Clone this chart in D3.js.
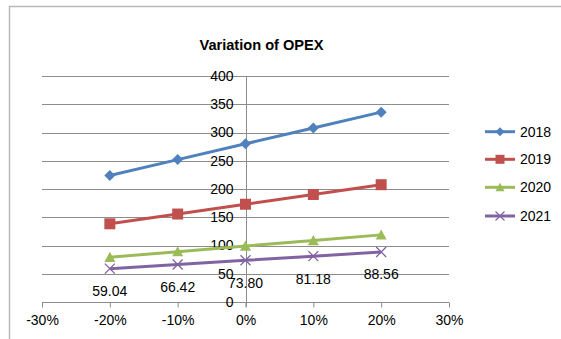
<!DOCTYPE html>
<html>
<head>
<meta charset="utf-8">
<script src="https://cdn.jsdelivr.net/npm/d3@7/dist/d3.min.js"></script>
<style>
  body { margin: 0; background: #fff; }
  svg { display: block; font-family: "Liberation Sans", Arial, sans-serif; }
</style>
</head>
<body>
<div id="chart-area"></div>
<script>
// data
var variations = [-0.2, -0.1, 0, 0.1, 0.2];
var years = ["2018", "2019", "2020", "2021"];
var opex2018 = [224, 252, 280, 308, 336];
var opex2019 = [138.4, 155.7, 173, 190.3, 207.6];
var opex2020 = [79.2, 89.1, 99, 108.9, 118.8];
var opex2021 = [59.04, 66.42, 73.80, 81.18, 88.56];
var labels2021 = ["59.04", "66.42", "73.80", "81.18", "88.56"];
var xTicks = [-0.3, -0.2, -0.1, 0, 0.1, 0.2, 0.3];
var yTicks = [0, 50, 100, 150, 200, 250, 300, 350, 400];

var colors = ["#4F81BD", "#C0504D", "#9BBB59", "#8064A2"];
var markers = ["diamond", "square", "triangle", "x"];
var series = [opex2018, opex2019, opex2020, opex2021];

var W = 561, H = 339;
var svg = d3.select("#chart-area").append("svg")
    .attr("width", W)
    .attr("height", H);

// chart border
svg.append("rect")
    .attr("x", 9.5).attr("y", 6.5)
    .attr("width", W + 10).attr("height", H + 10)
    .attr("fill", "#fff")
    .attr("stroke", "#b9b9b9")
    .attr("stroke-width", 1.5);

var x = d3.scaleLinear().domain([-0.3, 0.3]).range([42, 449]);
var y = d3.scaleLinear().domain([0, 400]).range([302, 76]);

// title
svg.append("text")
    .attr("x", 261.5)
    .attr("y", 50)
    .attr("text-anchor", "middle")
    .attr("font-size", "14.6px")
    .attr("font-weight", "bold")
    .text("Variation of OPEX");

// gridlines
svg.append("g").selectAll("line")
    .data(yTicks.filter(d => d > 0))
    .enter().append("line")
    .attr("x1", x(-0.3)).attr("x2", x(0.3))
    .attr("y1", d => Math.round(y(d)) + 0.5)
    .attr("y2", d => Math.round(y(d)) + 0.5)
    .attr("stroke", "#8c8c8c")
    .attr("stroke-width", 1);

// x axis
var xAxis = d3.axisBottom(x)
    .tickValues(xTicks)
    .tickSize(5)
    .tickPadding(8)
    .tickFormat(d => Math.round(d * 100) + "%");
var xaxg = svg.append("g")
    .attr("transform", "translate(0," + (Math.round(y(0)) + 0.5) + ")")
    .call(xAxis);
xaxg.select(".domain").attr("stroke", "#8c8c8c").attr("d", "M" + x(-0.3) + ",0H" + x(0.3));
xaxg.selectAll(".tick line").attr("stroke", "#8c8c8c");
xaxg.selectAll(".tick text")
    .attr("font-size", "14px")
    .attr("font-family", "Liberation Sans, Arial, sans-serif")
    .attr("fill", "#000");

// y axis on the 0% line
var yAxis = d3.axisLeft(y)
    .tickValues(yTicks)
    .tickSize(0)
    .tickPadding(13);
var yaxg = svg.append("g")
    .attr("transform", "translate(" + (Math.round(x(0)) + 0.5) + ",0)")
    .call(yAxis);
yaxg.select(".domain").attr("stroke", "#8c8c8c").attr("d", "M0," + y(400) + "V" + (y(0) + 5));
yaxg.selectAll(".tick text")
    .attr("font-size", "14px")
    .attr("font-family", "Liberation Sans, Arial, sans-serif")
    .attr("fill", "#000");

function markerPath(type, r) {
    if (type === "diamond") return "M0," + (-r) + "L" + r + ",0L0," + r + "L" + (-r) + ",0Z";
    if (type === "square") return "M" + (-r) + "," + (-r) + "h" + (2 * r) + "v" + (2 * r) + "h" + (-2 * r) + "Z";
    if (type === "triangle") return "M0," + (-r) + "L" + r + "," + (r * 0.85) + "L" + (-r) + "," + (r * 0.85) + "Z";
    return "M" + (-r) + "," + (-r) + "L" + r + "," + r + "M" + (-r) + "," + r + "L" + r + "," + (-r);
}

var line = d3.line()
    .x((d, i) => x(variations[i]))
    .y(d => y(d));

series.forEach(function (vals, s) {
    var g = svg.append("g");
    g.append("path")
        .datum(vals)
        .attr("d", line)
        .attr("fill", "none")
        .attr("stroke", colors[s])
        .attr("stroke-width", 3);
    g.selectAll("path.mk")
        .data(vals)
        .enter().append("path")
        .attr("class", "mk")
        .attr("transform", (d, i) => "translate(" + x(variations[i]) + "," + y(d) + ")")
        .attr("d", markerPath(markers[s], markers[s] === "x" ? 5 : 5.5))
        .attr("fill", markers[s] === "x" ? "none" : colors[s])
        .attr("stroke", markers[s] === "x" ? colors[s] : "none")
        .attr("stroke-width", 1.3);
});

// data labels for 2021
svg.append("g").selectAll("text")
    .data(opex2021)
    .enter().append("text")
    .attr("x", (d, i) => x(variations[i]))
    .attr("y", d => y(d) + 27.5)
    .attr("text-anchor", "middle")
    .attr("font-size", "14px")
    .text((d, i) => labels2021[i]);

// legend
var legY = [131.7, 159.3, 187.3, 216];
var leg = svg.append("g").selectAll("g")
    .data(years)
    .enter().append("g")
    .attr("transform", (d, i) => "translate(0," + legY[i] + ")");
leg.append("line")
    .attr("x1", 485).attr("x2", 515)
    .attr("stroke", (d, i) => colors[i])
    .attr("stroke-width", 3);
leg.append("path")
    .attr("transform", "translate(500,0)")
    .attr("d", (d, i) => markerPath(markers[i], markers[i] === "x" ? 4.5 : 4.5))
    .attr("fill", (d, i) => markers[i] === "x" ? "none" : colors[i])
    .attr("stroke", (d, i) => markers[i] === "x" ? colors[i] : "none")
    .attr("stroke-width", 1.2);
leg.append("text")
    .attr("x", 520)
    .attr("dy", "0.36em")
    .attr("font-size", "14px")
    .text(d => d);
</script>
</body>
</html>
